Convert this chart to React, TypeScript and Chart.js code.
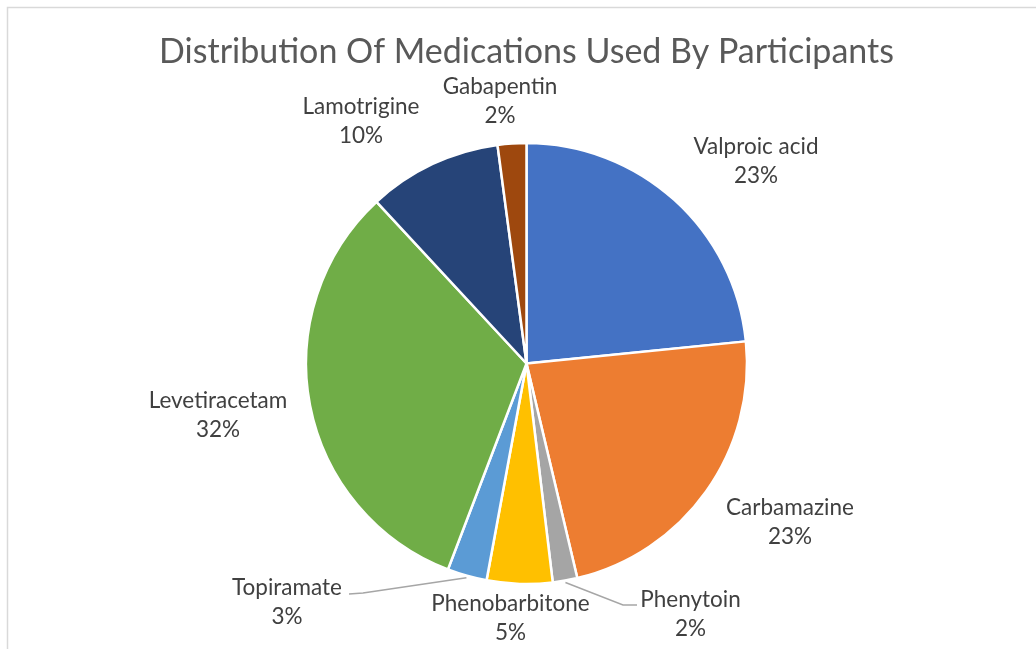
import React, { useEffect, useRef } from "react";
import { Chart, registerables } from "chart.js";

Chart.register(...registerables);

const chartTitle = "Distribution Of Medications Used By Participants";
const categories = [
  "Valproic acid",
  "Carbamazine",
  "Phenytoin",
  "Phenobarbitone",
  "Topiramate",
  "Levetiracetam",
  "Lamotrigine",
  "Gabapentin",
];
const shares = [23.4, 22.9, 1.8, 4.8, 2.9, 32.3, 9.8, 2.1];
const percentLabels = ["23%", "23%", "2%", "5%", "3%", "32%", "10%", "2%"];
const sliceColors = [
  "#4472C4",
  "#ED7D31",
  "#A5A5A5",
  "#FFC000",
  "#5B9BD5",
  "#70AD47",
  "#264478",
  "#9E480E",
];

// label block centres, relative to the pie centre (layout only)
const labelOffsets: number[][] = [
  [229.5, -202.5],
  [263.5, 158.5],
  [164, 250.5],
  [-16, 254.5],
  [-239.5, 238.5],
  [-308.5, 51.5],
  [-165.5, -242.5],
  [-26.5, -262.5],
];
// leader lines: slice index -> elbow and end points relative to pie centre
const leaderLines: Record<number, number[][]> = {
  2: [
    [96.5, 241.5],
    [110.5, 241.5],
  ],
  4: [
    [-163.5, 229.5],
    [-177.5, 230.5],
  ],
};

const LABEL_FONT = "22.5px Lato";
const TITLE_FONT = "34px Lato";

const labelsPlugin = {
  id: "excelLabels",
  beforeDraw(chart: any) {
    const ctx = chart.ctx;
    ctx.save();
    ctx.strokeStyle = "#d9d9d9";
    ctx.lineWidth = 1.5;
    ctx.beginPath();
    ctx.moveTo(7.5, chart.height);
    ctx.lineTo(7.5, 7.5);
    ctx.lineTo(chart.width, 7.5);
    ctx.stroke();
    ctx.restore();
  },
  afterDraw(chart: any) {
    const ctx = chart.ctx;
    const meta = chart.getDatasetMeta(0);
    const first = meta.data[0];
    const cx = first.x;
    const cy = first.y;
    ctx.save();
    // title
    ctx.fillStyle = "#595959";
    ctx.font = TITLE_FONT;
    ctx.textAlign = "center";
    ctx.textBaseline = "middle";
    ctx.fillText(chartTitle, cx, 52);

    meta.data.forEach((arc: any, i: number) => {
      const p = arc.getProps(["x", "y", "outerRadius", "startAngle", "endAngle"], true);
      const mid = (p.startAngle + p.endAngle) / 2;
      const lead = leaderLines[i];
      if (lead) {
        const r = p.outerRadius + 2;
        ctx.strokeStyle = "#a6a6a6";
        ctx.lineWidth = 1.5;
        ctx.beginPath();
        ctx.moveTo(p.x + r * Math.cos(mid), p.y + r * Math.sin(mid));
        ctx.lineTo(cx + lead[0][0], cy + lead[0][1]);
        ctx.lineTo(cx + lead[1][0], cy + lead[1][1]);
        ctx.stroke();
      }
      const [dx, dy] = labelOffsets[i];
      const lx = cx + dx;
      const ly = cy + dy;
      ctx.fillStyle = "#404040";
      ctx.font = LABEL_FONT;
      ctx.textAlign = "center";
      ctx.textBaseline = "middle";
      ctx.fillText(categories[i], lx, ly - 14.5);
      ctx.fillText(percentLabels[i], lx, ly + 14.5);
    });
    ctx.restore();
  },
};

export default function App() {
  const canvasRef = useRef<HTMLCanvasElement | null>(null);

  useEffect(() => {
    if (!canvasRef.current) return;
    const chart = new Chart(canvasRef.current, {
      type: "pie",
      data: {
        labels: categories,
        datasets: [
          {
            data: shares,
            backgroundColor: sliceColors,
            borderColor: "#ffffff",
            borderWidth: 2.5,
          },
        ],
      },
      options: {
        responsive: false,
        animation: false,
        events: [],
        radius: 220.5,
        layout: { padding: { left: 17, right: 0, top: 78, bottom: 0 } },
        plugins: {
          legend: { display: false },
          tooltip: { enabled: false },
          title: { display: false },
        },
      } as any,
      plugins: [labelsPlugin],
    });
    return () => chart.destroy();
  }, []);

  return (
    <div
      style={{
        position: "fixed",
        left: 0,
        top: 0,
        width: 1036,
        height: 649,
        background: "#ffffff",
      }}
    >
      <canvas ref={canvasRef} width={1036} height={649} style={{ display: "block" }} />
    </div>
  );
}
